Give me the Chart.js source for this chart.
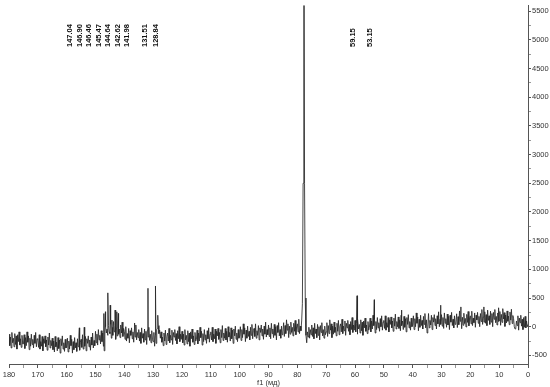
<!DOCTYPE html>
<html>
<head>
<meta charset="utf-8">
<script src="https://cdn.jsdelivr.net/npm/chart.js@4"></script>
<style>
  html, body { margin: 0; padding: 0; background: #fff; }
  #spec { display: block; }
</style>
</head>
<body>
<canvas id="spec" width="550" height="387"></canvas>
<script>
// 13C spectrum, f1 from 180 down to 0 ppm in 0.25 ppm steps
const gridStart = 180;
const gridStep = 0.25;

const baseline = [
  // 180 .. 175.25
  -130, -330, -180, -370, -100, -280, -200, -350, -120, -310, -160, -390, -140, -260, -90, -320, -210, -360, -150, -300,
  // 175 .. 170.25
  -300, -140, -380, -190, -330, -90, -270, -160, -400, -200, -340, -130, -310, -220, -370, -150, -290, -100, -350, -210,
  // 170 .. 165.25
  -220, -360, -140, -390, -260, -340, -170, -420, -210, -290, -160, -350, -230, -410, -180, -320, -110, -370, -240, -330,
  // 165 .. 160.25
  -200, -400, -250, -440, -170, -350, -270, -420, -190, -380, -230, -460, -210, -330, -160, -390, -280, -430, -220, -370,
  // 160 .. 155.25
  -360, -200, -440, -250, -390, -150, -330, -220, -460, -260, -400, -190, -370, -280, -430, -210, -350, -160, -410, -270,
  // 155 .. 150.25
  -220, -360, -140, -390, -260, -340, -170, -420, -210, -290, -160, -350, -230, -410, -180, -320, -110, -370, -240, -330,
  // 150 .. 145.25
  -80, -280, -130, -320, -50, -230, -150, -300, -70, -260, -110, -340, -420, -60, 0, -110, -40, -150, 20, -90,
  // 145 .. 140.25
  -120, 40, -200, -10, -150, 90, -90, 20, -220, -20, -160, 50, -130, -40, -190, 30, -110, 80, -170, -30,
  // 140 .. 135.25
  -80, -220, 0, -250, -120, -200, -30, -280, -70, -150, -20, -210, -90, -270, -40, -180, 30, -230, -100, -190,
  // 135 .. 130.25
  -50, -250, -100, -290, -20, -200, -120, -270, -40, -230, -80, -310, -60, -180, -10, -240, -130, -280, -70, -220,
  // 130 .. 125.25
  -260, -100, -340, -150, -290, -50, -30, 20, -120, -60, -200, -90, -270, -180, -330, -110, -250, -60, -310, -170,
  // 125 .. 120.25
  -110, -250, -30, -280, -150, -230, -60, -310, -100, -180, -50, -240, -120, -300, -70, -210, 0, -260, -130, -220,
  // 120 .. 115.25
  -80, -280, -130, -320, -50, -230, -150, -300, -70, -260, -110, -340, -90, -210, -40, -270, -160, -310, -100, -250,
  // 115 .. 110.25
  -220, -60, -300, -110, -250, -10, -190, -80, -320, -120, -260, -50, -230, -140, -290, -70, -210, -20, -270, -130,
  // 110 .. 105.25
  -90, -230, -10, -260, -130, -210, -40, -290, -80, -160, -30, -220, -100, -280, -50, -190, 20, -240, -110, -200,
  // 105 .. 100.25
  -30, -230, -80, -270, 0, -180, -100, -250, -20, -210, -60, -290, -40, -160, 10, -220, -110, -260, -50, -200,
  // 100 .. 95.25
  -160, 0, -240, -50, -190, 50, -130, -20, -260, -60, -200, 10, -170, -80, -230, -10, -150, 40, -210, -70,
  // 95 .. 90.25
  -30, -170, 50, -200, -70, -150, 20, -230, -20, -100, 30, -160, -40, -220, 10, -130, 80, -180, -50, -140,
  // 90 .. 85.25
  30, -170, -20, -210, 60, -120, -40, -190, 40, -150, 0, -230, 20, -100, 70, -160, -50, -200, 10, -140,
  // 85 .. 80.25
  -90, 70, -170, 20, -120, 120, -60, 50, -190, 10, -130, 80, -100, -10, -160, 60, -80, 110, -140, 0,
  // 80 .. 75.25 (CDCl3 line at 77.75)
  50, -90, 130, -120, 10, -70, 100, 400, 2500, 9500, 2500, 500, -150, -280, -90, -180, -10, -200, -50, -140,
  // 75 .. 70.25
  30, -170, -20, -210, 60, -120, -40, -190, 40, -150, 0, -230, 20, -100, 70, -160, -50, -200, 10, -140,
  // 70 .. 65.25
  -90, 70, -170, 20, -120, 120, -60, 50, -190, 10, -130, 80, -100, -10, -160, 60, -80, 110, -140, 0,
  // 65 .. 60.25
  50, -90, 130, -120, 10, -70, 100, -150, 60, -20, 110, -80, 40, -140, 90, -50, 160, -100, 30, -60,
  // 60 .. 55.25
  110, -90, 60, -130, 140, -40, 40, -110, 120, -70, 80, -150, 100, -20, 150, -80, 30, -120, 90, -60,
  // 55 .. 50.25
  -10, 150, -90, 100, -40, 200, 20, 130, -110, 90, -50, 160, -20, 70, -80, 140, 0, 190, -60, 80,
  // 50 .. 45.25
  110, -30, 190, -60, 70, -10, 160, -90, 120, 40, 170, -20, 100, -80, 150, 10, 220, -40, 90, 0,
  // 45 .. 40.25
  170, -30, 120, -70, 200, 20, 100, -50, 180, -10, 140, -90, 160, 40, 210, -20, 90, -60, 150, 0,
  // 40 .. 35.25
  30, 190, -50, 140, 0, 240, 60, 170, -70, 130, -10, 200, 20, 110, -40, 180, 40, 230, -20, 120,
  // 35 .. 30.25
  -110, 10, 230, -20, 110, 30, 200, -50, 160, 80, 210, 20, 140, -40, 190, 50, 260, 0, 130, 40,
  // 30 .. 25.25
  210, 10, 160, -30, 240, 60, 140, -10, 220, 30, 180, -50, 200, 80, 250, 20, 130, -20, 190, 40,
  // 25 .. 20.25
  65, 225, -15, 175, 35, 275, 95, 205, -35, 165, 25, 235, 55, 145, -5, 215, 75, 265, 15, 155,
  // 20 .. 15.25
  190, 50, 270, 20, 150, 70, 240, -10, 200, 120, 250, 60, 180, 0, 230, 90, 300, 40, 170, 80,
  // 15 .. 10.25
  260, 60, 210, 20, 290, 110, 190, 40, 270, 80, 230, 0, 250, 130, 300, 70, 180, 30, 240, 90,
  // 10 .. 5.25
  105, 265, 25, 215, 75, 315, 135, 245, 5, 205, 65, 275, 95, 185, 35, 255, 115, 305, 55, 195,
  // 5 .. 0.25
  140, 0, -40, -30, 100, 20, 190, -60, 150, 70, 200, 10, 130, -50, 160, -10, 180, -20, 100, 0,
  // 0
  40
];

// sharp lines laid between grid points
const peakShifts = [155.6, 153.9, 147.1, 146.55, 145.7, 144.9, 144.3, 143.2, 142.6, 142.05, 136.45,
  131.8, 129.2, 128.4, 59.3, 53.3, 43.9, 30.3, 23.3, 15.3, 10.2];
const peakHeights = [-20, -10, 230, 260, 590, 375, 115, 290, 260, 230, 65,
  670, 710, 200, 540, 470, 290, 375, 345, 345, 330];

// peak picking labels and where they sit along the top
const peakLabels = ["147.04", "146.90", "146.46", "145.47", "144.64", "142.62", "141.98", "131.51", "128.84", "59.15", "53.15"];
const peakLabelAt = [158.8, 155.5, 152.2, 148.9, 145.6, 142.3, 139.0, 132.7, 129.2, 60.6, 54.7];

// intensity axis marks (labels on every other one)
const yTickValues = [-500, -250, 0, 250, 500, 750, 1000, 1250, 1500, 1750, 2000, 2250, 2500, 2750,
  3000, 3250, 3500, 3750, 4000, 4250, 4500, 4750, 5000, 5250, 5500];

const points = baseline.map((y, i) => ({ x: gridStart - i * gridStep, y }));
peakShifts.forEach((x, i) => points.push({ x, y: peakHeights[i] }));
points.sort((a, b) => b.x - a.x);

const tickFont = { family: "Liberation Sans", size: 7.5 };

const whiteBg = {
  id: "whiteBg",
  beforeDraw(chart) {
    const ctx = chart.ctx;
    ctx.save();
    ctx.fillStyle = "#fff";
    ctx.fillRect(0, 0, chart.width, chart.height);
    ctx.restore();
  },
};

const peakText = {
  id: "peakText",
  afterDraw(chart) {
    const ctx = chart.ctx;
    const xs = chart.scales.x;
    ctx.save();
    ctx.font = "bold 7.5px 'Liberation Sans'";
    ctx.fillStyle = "#111";
    ctx.textAlign = "left";
    ctx.textBaseline = "middle";
    peakLabels.forEach((txt, i) => {
      ctx.save();
      ctx.translate(xs.getPixelForValue(peakLabelAt[i]), 47);
      ctx.rotate(-Math.PI / 2);
      ctx.fillText(txt, 0, 0);
      ctx.restore();
    });
    ctx.restore();
  },
};

new Chart(document.getElementById("spec"), {
  type: "line",
  data: {
    datasets: [{
      data: points,
      borderColor: "rgba(40,40,40,0.85)",
      borderWidth: 1,
      pointRadius: 0,
      tension: 0,
    }],
  },
  options: {
    responsive: false,
    animation: false,
    devicePixelRatio: 1,
    layout: { padding: { left: 9, top: 3, right: 0, bottom: 0 } },
    plugins: { legend: { display: false }, tooltip: { enabled: false } },
    scales: {
      x: {
        type: "linear",
        reverse: true,
        min: 0,
        max: 180,
        ticks: {
          stepSize: 5,
          autoSkip: false,
          maxRotation: 0,
          padding: 2,
          font: tickFont,
          color: "#333",
          callback: (v) => (v % 10 === 0 ? v : ""),
        },
        grid: {
          drawOnChartArea: false,
          tickLength: 4,
          tickColor: (c) => (c.tick && c.tick.value % 10 === 0 ? "#555" : "#999"),
        },
        border: { color: "#555", width: 1 },
        title: { display: true, text: "f1 (мд)", font: tickFont, color: "#333", padding: 0 },
        afterFit: (s) => { s.height = 23; },
      },
      y: {
        position: "right",
        min: -650,
        max: 5600,
        afterBuildTicks: (s) => {
          s.ticks = yTickValues.map((value) => ({ value }));
        },
        ticks: {
          autoSkip: false,
          padding: 1,
          font: tickFont,
          color: "#333",
          callback: (v) => (v % 500 === 0 ? v : ""),
        },
        grid: {
          drawOnChartArea: false,
          tickLength: 3,
          tickColor: (c) => (c.tick && c.tick.value % 500 === 0 ? "#555" : "#999"),
        },
        border: { color: "#555", width: 1 },
        afterFit: (s) => { s.width = 22; },
      },
    },
  },
  plugins: [whiteBg, peakText],
});
</script>
</body>
</html>
